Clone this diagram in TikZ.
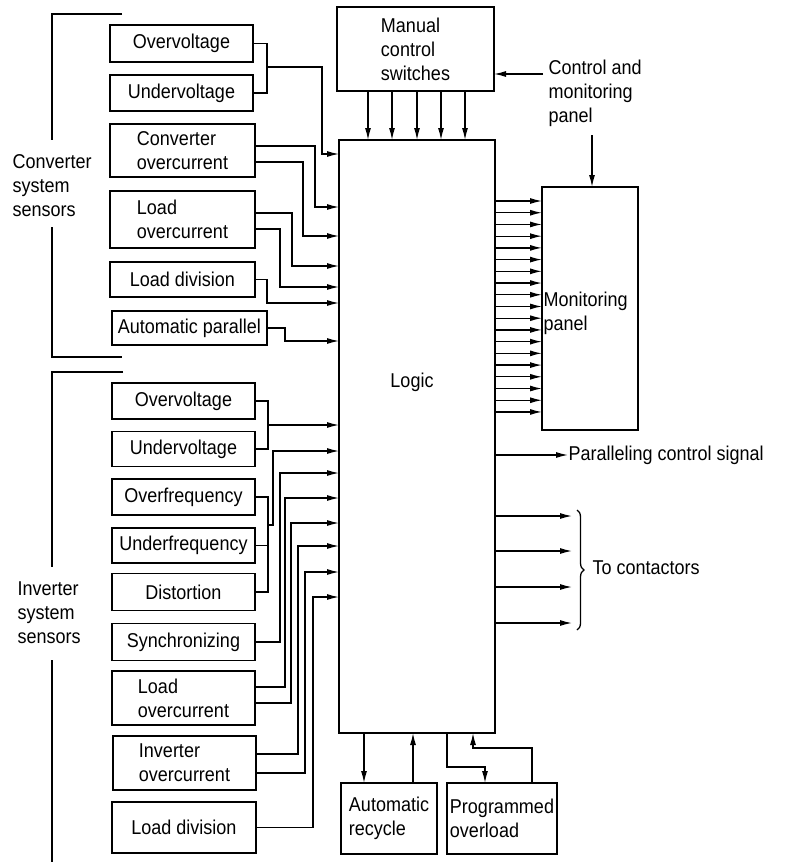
\documentclass[tikz,border=0pt]{standalone}
\usepackage{fontspec}
\setmainfont[FakeStretch=0.9]{Liberation Sans}
\usetikzlibrary{arrows.meta,decorations.pathreplacing}
\begin{document}
\begin{tikzpicture}[x=1pt,y=-1pt, line width=1.3pt,
  font=\fontsize{20}{24}\selectfont,
  box/.style={draw, rectangle, inner sep=0pt, outer sep=0pt, align=left},
  lbl/.style={inner sep=0pt, align=left},
  arr/.style={-{Latex[length=12pt,width=6pt]}}]
\useasboundingbox (0,0) rectangle (787,862);

% ---------- main blocks
\node[box, minimum width=156pt, minimum height=593pt] (logic) at (417,436.5) {};
\node[lbl] (logictxt) at (412,382) {Logic};
\node[box, minimum width=157pt, minimum height=84pt] (man) at (415.5,49) {Manual\\control\\switches};
\node[box, minimum width=96pt, minimum height=243pt] (mon) at (590,308.5) {};
\node[lbl, anchor=west] (montxt) at (543,313) {Monitoring\\panel};
\node[box, minimum width=96pt, minimum height=71pt] (ar) at (389,818.5) {Automatic\\recycle};
\node[box, minimum width=110pt, minimum height=71pt] (po) at (502,818.5) {Programmed\\overload};

% ---------- converter sensors
\node[box, minimum width=143pt, minimum height=37pt] (cOv) at (181.5,43.5) {Overvoltage};
\node[box, minimum width=143pt, minimum height=36pt] (cUv) at (181.5,93) {Undervoltage};
\node[box, minimum width=145pt, minimum height=53pt] (cCo) at (182.5,150.5) {Converter\\overcurrent};
\node[box, minimum width=145pt, minimum height=57pt] (cLo) at (182.5,219.5) {Load\\overcurrent};
\node[box, minimum width=145pt, minimum height=35pt] (cLd) at (182.5,279.5) {Load division};
\node[box, minimum width=155pt, minimum height=34pt] (cAp) at (189.5,328) {Automatic parallel};

% ---------- inverter sensors
\node[box, minimum width=143pt, minimum height=36pt] (iOv) at (183.5,401) {Overvoltage};
\node[box, minimum width=143pt, minimum height=35pt] (iUv) at (183.5,449) {Undervoltage};
\node[box, minimum width=143pt, minimum height=36pt] (iOf) at (183.5,497) {Overfrequency};
\node[box, minimum width=143pt, minimum height=35pt] (iUf) at (183.5,545.5) {Underfrequency};
\node[box, minimum width=143pt, minimum height=37pt] (iDi) at (183.5,592) {Distortion};
\node[box, minimum width=143pt, minimum height=37pt] (iSy) at (183.5,642) {Synchronizing};
\node[box, minimum width=143pt, minimum height=54pt] (iLo) at (183.5,698) {Load\\overcurrent};
\node[box, minimum width=143pt, minimum height=54pt] (iIo) at (184.5,763) {Inverter\\overcurrent};
\node[box, minimum width=144pt, minimum height=51pt] (iLd) at (184,827.5) {Load division};

% ---------- group brackets
\draw (122,14) -- (52,14) -- (52,140);
\draw (52,227) -- (52,357) -- (122,357);
\node[lbl, anchor=west] (clbl) at (12,186) {Converter\\system\\sensors};
\draw (123,372) -- (52,372) -- (52,567);
\draw (52,660) -- (52,862);
\node[lbl, anchor=west] (ilbl) at (17,613) {Inverter\\system\\sensors};

% ---------- converter wiring
\draw (cOv.east) -| (267,93) -- (cUv.east);
\coordinate (j1) at (267,67);
\draw[arr] (j1) -| (322,154) -- (logic.west |- 0,154);
\draw[arr] ([yshift=4.5pt]cCo.east) -| (315,207) -- (logic.west |- 0,207);
\draw[arr] ([yshift=-11.5pt]cCo.east) -| (303,236) -- (logic.west |- 0,236);
\draw[arr] ([yshift=6.5pt]cLo.east) -| (292,266) -- (logic.west |- 0,266);
\draw[arr] ([yshift=-9.5pt]cLo.east) -| (280,287) -- (logic.west |- 0,287);
\draw[arr] (cLd.east) -| (267,303) -- (logic.west |- 0,303);
\draw[arr] (cAp.east) -| (285,341) -- (logic.west |- 0,341);

% ---------- inverter wiring
\draw (iOv.east) -| (268,449) -- (iUv.east);
\coordinate (j2) at (268,425);
\draw[arr] (j2) -- (logic.west |- j2);
\draw (iOf.east) -| (268,592) -- (iDi.east);
\draw (iUf.east) -- (268,545.5);
\coordinate (j3) at (268,525);
\draw[arr] (j3) -- (273,525) |- (logic.west |- 0,451);
\draw[arr] (iSy.east) -| (280,473) -- (logic.west |- 0,473);
\draw[arr] ([yshift=11pt]iLo.east) -| (285,498) -- (logic.west |- 0,498);
\draw[arr] ([yshift=-5pt]iLo.east) -| (291,523) -- (logic.west |- 0,523);
\draw[arr] ([yshift=9pt]iIo.east) -| (298,546) -- (logic.west |- 0,546);
\draw[arr] ([yshift=-10pt]iIo.east) -| (305,572) -- (logic.west |- 0,572);
\draw[arr] (iLd.east) -| (313,597) -- (logic.west |- 0,597);

% ---------- manual switches
\foreach \xx in {368,392,417,441,465}
  \draw[arr] (man.south -| \xx,0) -- (logic.north -| \xx,0);
\node[lbl, anchor=west] (cmp) at (548,93) {Control and\\monitoring\\panel};
\draw[arr] (543,74) -- (man.east |- 0,74);
\draw[arr] (592,135) -- (mon.north -| 592,0);

% ---------- logic to monitoring panel
\foreach \i in {0,...,18} {
  \pgfmathsetmacro\yy{201+11.72*\i}
  \draw[arr] (logic.east |- 0,\yy) -- (mon.west |- 0,\yy);
}

% ---------- outputs
\node[lbl, anchor=west] (par) at (568,455) {Paralleling control signal};
\draw[arr] (logic.east |- par.west) -- (par.west);
\foreach \yy/\nm in {516/k1,551/k2,587/k3,623/k4} {
  \coordinate (\nm) at (572,\yy);
  \draw[arr] (logic.east |- \nm) -- (\nm);
}
\draw[decorate, decoration={brace, amplitude=7pt}] (577,510) -- (577,630);
\node[lbl, anchor=west] (toc) at (592,568) {To contactors};

% ---------- bottom blocks
\draw[arr] (logic.south -| 364,0) -- (ar.north -| 364,0);
\draw[arr] (ar.north -| 413,0) -- (logic.south -| 413,0);
\draw[arr] (logic.south -| 447,0) |- (485,767) -- (po.north -| 485,0);
\draw[arr] (po.north -| 532,0) |- (473,748) -- (logic.south -| 473,0);
\end{tikzpicture}
\end{document}
